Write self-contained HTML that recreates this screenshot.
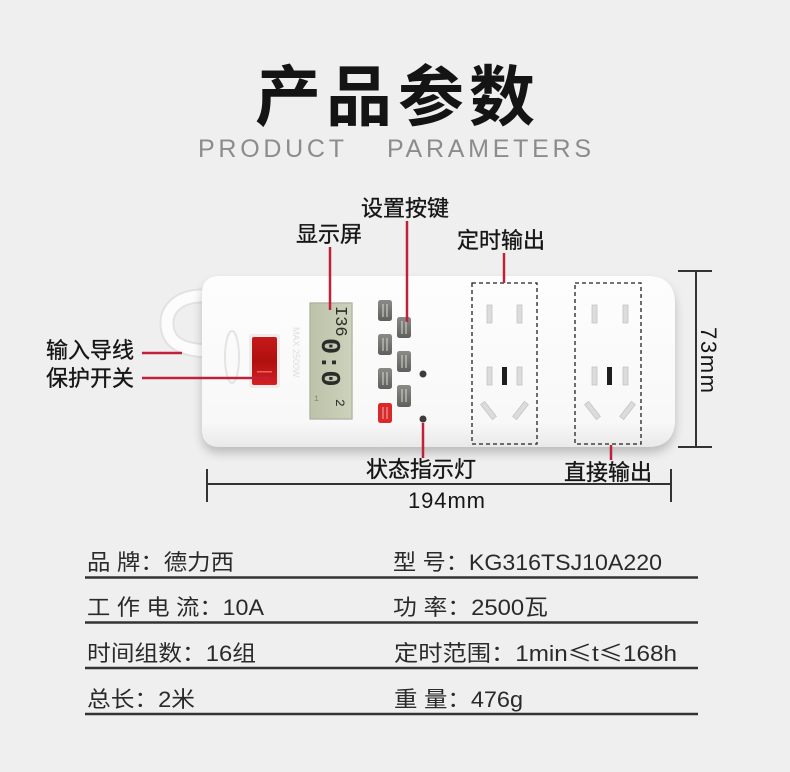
<!DOCTYPE html>
<html><head><meta charset="utf-8"><style>
html,body{margin:0;padding:0;background:#efefef;}
svg{display:block;}
</style></head><body>
<svg width="790" height="772" viewBox="0 0 790 772" xmlns="http://www.w3.org/2000/svg">
<defs>
<filter id="sh" x="-10%" y="-20%" width="120%" height="160%">
<feGaussianBlur in="SourceAlpha" stdDeviation="5"/>
<feOffset dx="0" dy="6" result="b"/>
<feComponentTransfer><feFuncA type="linear" slope="0.22"/></feComponentTransfer>
<feMerge><feMergeNode/><feMergeNode in="SourceGraphic"/></feMerge>
</filter>
<linearGradient id="bodyg" x1="0" y1="0" x2="0" y2="1">
<stop offset="0" stop-color="#fdfdfd"/><stop offset="0.85" stop-color="#f8f8f8"/><stop offset="1" stop-color="#e9e9e9"/>
</linearGradient>
<linearGradient id="redg" x1="0" y1="0" x2="0" y2="1">
<stop offset="0" stop-color="#c81818"/><stop offset="0.5" stop-color="#b01010"/><stop offset="1" stop-color="#d42020"/>
</linearGradient>
<linearGradient id="btng" x1="0" y1="0" x2="0" y2="1">
<stop offset="0" stop-color="#8a8a86"/><stop offset="1" stop-color="#5f5f5b"/>
</linearGradient>
<linearGradient id="lcdg" x1="0" y1="0" x2="1" y2="0">
<stop offset="0" stop-color="#bcc3a9"/><stop offset="1" stop-color="#ccd2bb"/>
</linearGradient>
</defs>

<rect width="790" height="772" fill="#efefef"/>

<!-- Title -->
<g font-family="'Noto Sans CJK SC','WenQuanYi Zen Hei',sans-serif" font-weight="bold" font-size="66" fill="#141414">
<text x="255" y="120">产</text>
<text x="326" y="120">品</text>
<text x="398" y="120">参</text>
<text x="469" y="120">数</text>
</g>
<g font-family="'Liberation Sans',sans-serif" font-size="25" fill="#8c8c8c">
<text x="198" y="157" textLength="146" lengthAdjust="spacing">PRODUCT</text>
<text x="387" y="157" textLength="204" lengthAdjust="spacing">PARAMETERS</text>
</g>

<!-- Cable -->
<path d="M202 296 C180 296 166 308 167 325 C168 342 180 349 205 351" fill="none" stroke="#e2e2e2" stroke-width="15" stroke-linecap="round"/>
<path d="M202 296 C180 296 166 308 167 325 C168 342 180 349 205 351" fill="none" stroke="#fcfcfc" stroke-width="11" stroke-linecap="round"/>

<!-- Body -->
<path d="M220 276 H647 Q675 276 675 304 V419 Q675 447 647 447 H220 Q202 447 202 429 V294 Q202 276 220 276 Z" fill="url(#bodyg)" filter="url(#sh)"/>

<!-- faint logo and text -->
<ellipse cx="232" cy="357" rx="7" ry="26" fill="none" stroke="#e4e4e4" stroke-width="2"/>
<text x="0" y="0" transform="translate(293,327) rotate(90)" font-family="'Liberation Sans',sans-serif" font-size="9" fill="#dedede">MAX 2500W</text>

<!-- Switch -->
<rect x="249" y="334" width="31" height="54" rx="3" fill="#ececec"/>
<rect x="252" y="337" width="25" height="48" rx="2" fill="url(#redg)"/>
<rect x="257" y="371" width="15" height="1.5" fill="#e86060"/>

<!-- LCD -->
<rect x="309" y="302" width="44" height="118" rx="1" fill="#e6e6e6"/>
<rect x="310" y="303" width="42" height="116" fill="url(#lcdg)" stroke="#a7ad98" stroke-width="1"/>
<g font-family="'Liberation Mono',monospace" fill="#2c2c2a">
<text transform="translate(322,338) rotate(90)" font-size="27" font-weight="bold">0:0</text>
<text transform="translate(336,306) rotate(90)" font-size="17">I36</text>
<text transform="translate(336,399) rotate(90)" font-size="13">2</text>
<text x="314" y="401" font-size="8" fill="#7f866e">1</text>
</g>

<!-- Buttons -->
<g>
<rect x="378" y="300" width="14" height="21" rx="2.5" fill="url(#btng)"/>
<rect x="378" y="334" width="14" height="21" rx="2.5" fill="url(#btng)"/>
<rect x="378" y="368" width="14" height="21" rx="2.5" fill="url(#btng)"/>
<rect x="378" y="403" width="14" height="20" rx="2.5" fill="#d82a2a"/>
<rect x="397" y="317" width="14" height="21" rx="2.5" fill="url(#btng)"/>
<rect x="397" y="351" width="14" height="21" rx="2.5" fill="url(#btng)"/>
<rect x="397" y="385" width="14" height="22" rx="2.5" fill="url(#btng)"/>
<g stroke="#d8d8d4" stroke-width="1">
<path d="M383 304v13M387 304v13M383 338v13M387 338v13M383 372v13M387 372v13M402 321v13M406 321v13M402 355v13M406 355v13M402 389v13M406 389v13"/>
</g>
<path d="M383 407v12M387 407v12" stroke="#f2b0b0" stroke-width="1"/>
</g>

<!-- LEDs -->
<circle cx="423" cy="374" r="3.5" fill="#3c3c3c"/>
<circle cx="423" cy="419" r="3.5" fill="#3c3c3c"/>

<!-- Sockets -->
<g fill="none" stroke="#222" stroke-width="1.3" stroke-dasharray="4 3">
<rect x="472" y="283" width="65" height="161"/>
<rect x="575" y="283" width="66" height="161"/>
</g>
<g fill="#dcdcdc" stroke="#c4c4c4" stroke-width="0.8">
<rect x="487" y="305" width="5" height="18"/>
<rect x="517" y="305" width="5" height="18"/>
<rect x="487" y="367" width="5" height="18"/>
<rect x="517" y="367" width="5" height="18"/>
<rect x="592" y="305" width="5" height="18"/>
<rect x="623" y="305" width="5" height="18"/>
<rect x="592" y="367" width="5" height="18"/>
<rect x="623" y="367" width="5" height="18"/>
<rect x="486" y="401" width="5" height="19" transform="rotate(-38 488.5 410.5)"/>
<rect x="518" y="401" width="5" height="19" transform="rotate(38 520.5 410.5)"/>
<rect x="590" y="401" width="5" height="19" transform="rotate(-38 592.5 410.5)"/>
<rect x="625" y="401" width="5" height="19" transform="rotate(38 627.5 410.5)"/>
</g>
<rect x="502" y="367" width="5" height="18" fill="#1e1e1e"/>
<rect x="607" y="367" width="5" height="18" fill="#1e1e1e"/>

<!-- Red leader lines -->
<g stroke="#c0203a" stroke-width="2.5" fill="none">
<path d="M407 221V322"/>
<path d="M330 247V310"/>
<path d="M504 253V283"/>
<path d="M142 353H182"/>
<path d="M142 378H270"/>
<path d="M423 423V458"/>
<path d="M611 445V460"/>
</g>

<!-- Dimension lines -->
<g stroke="#333" stroke-width="2" fill="none">
<path d="M207 484H671"/>
<path d="M207 469V502"/>
<path d="M671 469V502"/>
<path d="M696 271V447"/>
<path d="M678 271H712"/>
<path d="M678 447H712"/>
</g>

<!-- Labels -->
<g font-family="'Liberation Sans','Noto Sans CJK SC',sans-serif" font-size="22" fill="#161616" stroke="#161616" stroke-width="0.35">
<text x="361" y="216">设置按键</text>
<text x="296" y="242">显示屏</text>
<text x="457" y="248">定时输出</text>
<text x="46" y="358">输入导线</text>
<text x="46" y="386">保护开关</text>
<text x="366" y="477">状态指示灯</text>
<text x="564" y="480">直接输出</text>
</g>
<g font-family="'Liberation Sans',sans-serif" font-size="22" fill="#161616">
<text x="408" y="508" textLength="77" lengthAdjust="spacing">194mm</text>
<text transform="translate(701,327) rotate(90)" textLength="66" lengthAdjust="spacing">73mm</text>
</g>

<!-- Table -->
<g font-family="'Liberation Sans','Noto Sans CJK SC',sans-serif" font-size="22" fill="#2a2a2a">
<text x="87" y="570" textLength="147" lengthAdjust="spacingAndGlyphs">品 牌：德力西</text>
<text x="393" y="570" textLength="269" lengthAdjust="spacingAndGlyphs">型 号：KG316TSJ10A220</text>
<text x="87" y="615" textLength="177" lengthAdjust="spacingAndGlyphs">工 作 电 流：10A</text>
<text x="393" y="615" textLength="155" lengthAdjust="spacingAndGlyphs">功 率：2500瓦</text>
<text x="87" y="661" textLength="169" lengthAdjust="spacingAndGlyphs">时间组数：16组</text>
<text x="394" y="661" textLength="283" lengthAdjust="spacingAndGlyphs">定时范围：1min<tspan font-family="'Noto Sans CJK SC',sans-serif">≤</tspan>t<tspan font-family="'Noto Sans CJK SC',sans-serif">≤</tspan>168h</text>
<text x="87" y="707" textLength="108" lengthAdjust="spacingAndGlyphs">总长：2米</text>
<text x="394" y="707" textLength="129" lengthAdjust="spacingAndGlyphs">重 量：476g</text>
</g>
<g stroke="#333" stroke-width="2.5">
<path d="M85 577.5H698"/>
<path d="M85 622.5H698"/>
<path d="M85 668H698"/>
<path d="M85 714H698"/>
</g>
</svg>
</body></html>
